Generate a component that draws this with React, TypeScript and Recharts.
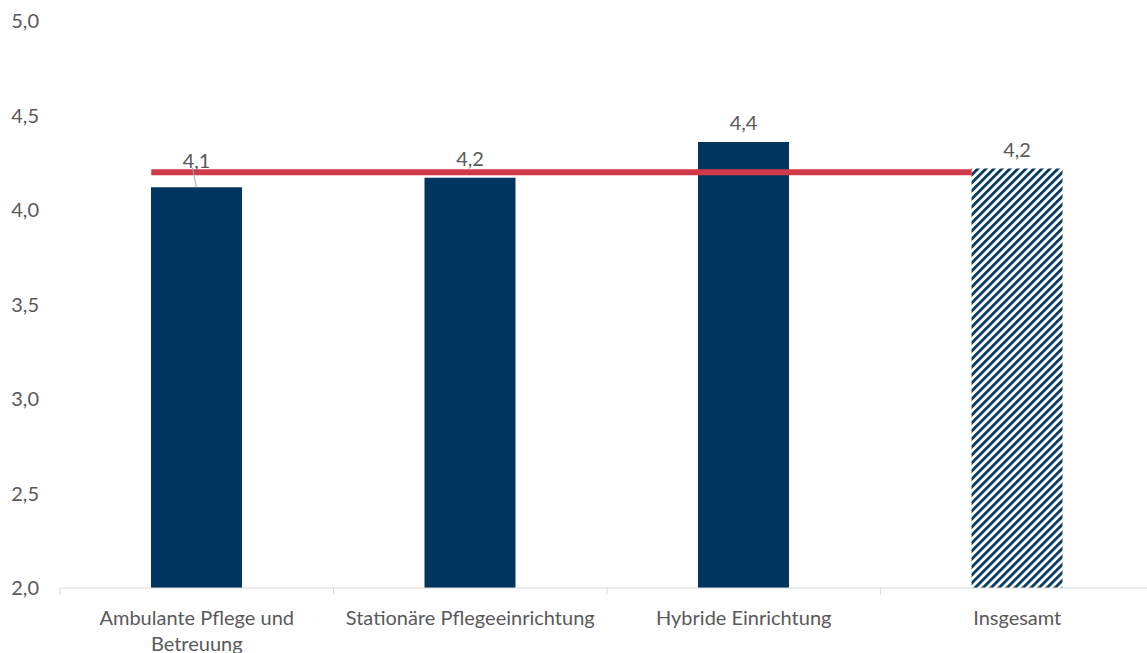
import React from 'react';
import { BarChart, Bar, XAxis, YAxis, ReferenceLine, LabelList, Cell } from 'recharts';

const categories = [
  'Ambulante Pflege und Betreuung',
  'Stationäre Pflegeeinrichtung',
  'Hybride Einrichtung',
  'Insgesamt',
];
const values = [4.12, 4.17, 4.36, 4.22];
const hatched = [false, false, false, true];
const averageValue = 4.2;
const yTicks = [2, 2.5, 3, 3.5, 4, 4.5, 5];

const data = categories.map((name, i) => ({ name, value: values[i], hatched: hatched[i] }));

const CHART_W = 1160;
const CHART_H = 653;
const MARGIN = { top: 21, right: 6, bottom: 0, left: 0 };
const Y_AXIS_W = 60;
const X_AXIS_H = 65;
const BAR_SIZE = 91;
const NAVY = '#00355F';
const RED = '#D13A4A';
const GRAY_TEXT = '#595959';
const AXIS_GRAY = '#D9D9D9';
const FONT = 'Lato, "Noto Sans", sans-serif';
const FS = 20;

const bandWidth = (CHART_W - MARGIN.left - MARGIN.right - Y_AXIS_W) / categories.length;

const fmt = (v: number) => v.toFixed(1).replace('.', ',');

let measureCtx: CanvasRenderingContext2D | null = null;
const measure = (s: string) => {
  if (!measureCtx && typeof document !== 'undefined') {
    measureCtx = document.createElement('canvas').getContext('2d');
  }
  if (!measureCtx) return s.length * FS * 0.5;
  measureCtx.font = `${FS}px Lato`;
  return measureCtx.measureText(s).width;
};

const wrapText = (text: string, maxW: number) => {
  const words = text.split(' ');
  const lines: string[] = [];
  let cur = '';
  words.forEach((w) => {
    const test = cur ? `${cur} ${w}` : w;
    if (cur && measure(test) > maxW) {
      lines.push(cur);
      cur = w;
    } else {
      cur = test;
    }
  });
  if (cur) lines.push(cur);
  return lines;
};

const XTick = (props: any) => {
  const { x, y, payload, index } = props;
  const axisY = y - 6;
  const lines = wrapText(String(payload.value), bandWidth - 14);
  return (
    <g>
      <line x1={x - bandWidth / 2} x2={x - bandWidth / 2} y1={axisY} y2={axisY + 6} stroke={AXIS_GRAY} strokeWidth={1} />
      {index === categories.length - 1 && (
        <line x1={x + bandWidth / 2} x2={x + bandWidth / 2} y1={axisY} y2={axisY + 6} stroke={AXIS_GRAY} strokeWidth={1} />
      )}
      <text textAnchor="middle" fill={GRAY_TEXT} fontSize={FS} fontFamily={FONT}>
        {lines.map((l, i) => (
          <tspan key={i} x={x} y={axisY + 29 + i * 25.5} dominantBaseline="central">
            {l}
          </tspan>
        ))}
      </text>
    </g>
  );
};

const renderLabel = (props: any) => {
  const { x, y, width, value, index } = props;
  const cx = Number(x) + Number(width) / 2;
  const top = Number(y);
  const lift = index === 0 ? 8 : 0;
  const ty = top - 19.5 - lift;
  return (
    <g>
      {index === 0 && (
        <line x1={cx - 4} y1={ty + 8} x2={cx} y2={top} stroke="#A6A6A6" strokeWidth={1} />
      )}
      <text
        x={cx}
        y={ty}
        textAnchor="middle"
        dominantBaseline="central"
        fill={GRAY_TEXT}
        fontSize={FS}
        fontFamily={FONT}
      >
        {fmt(Number(value))}
      </text>
    </g>
  );
};

const RedLine = (p: any) => (
  <line
    x1={p.x1 - BAR_SIZE / 2}
    y1={p.y1}
    x2={p.x2 - BAR_SIZE / 2}
    y2={p.y2}
    stroke={RED}
    strokeWidth={6}
  />
);

export default function App() {
  return (
    <div style={{ position: 'absolute', left: 0, top: 0, width: 1147, height: 653, overflow: 'hidden', background: '#fff' }}>
      <svg width={0} height={0} style={{ position: 'absolute' }}>
        <defs>
          <pattern id="hatch" patternUnits="userSpaceOnUse" width={5.66} height={5.66} patternTransform="rotate(45)">
            <rect width={5.66} height={5.66} fill="#FFFFFF" />
            <rect x={0} y={0} width={2.7} height={5.66} fill={NAVY} />
          </pattern>
        </defs>
      </svg>
      <BarChart width={CHART_W} height={CHART_H} data={data} margin={MARGIN} barSize={BAR_SIZE}>
        <XAxis
          dataKey="name"
          height={X_AXIS_H}
          axisLine={{ stroke: AXIS_GRAY, strokeWidth: 1 }}
          tickLine={false}
          tickSize={6}
          tickMargin={0}
          interval={0}
          tick={<XTick />}
        />
        <YAxis
          width={Y_AXIS_W}
          domain={[2, 5]}
          ticks={yTicks}
          axisLine={false}
          tickLine={false}
          tickSize={6}
          tickMargin={15}
          tickFormatter={(v: number) => fmt(v)}
          tick={{ fill: GRAY_TEXT, fontSize: FS, fontFamily: FONT }}
        />
        <Bar dataKey="value" isAnimationActive={false}>
          {data.map((d, i) => (
            <Cell key={i} fill={d.hatched ? 'url(#hatch)' : NAVY} />
          ))}
          <LabelList dataKey="value" content={renderLabel} />
        </Bar>
        <ReferenceLine
          segment={[
            { x: categories[0], y: averageValue },
            { x: categories[categories.length - 1], y: averageValue },
          ]}
          stroke={RED}
          strokeWidth={6}
          shape={RedLine}
        />
      </BarChart>
    </div>
  );
}
